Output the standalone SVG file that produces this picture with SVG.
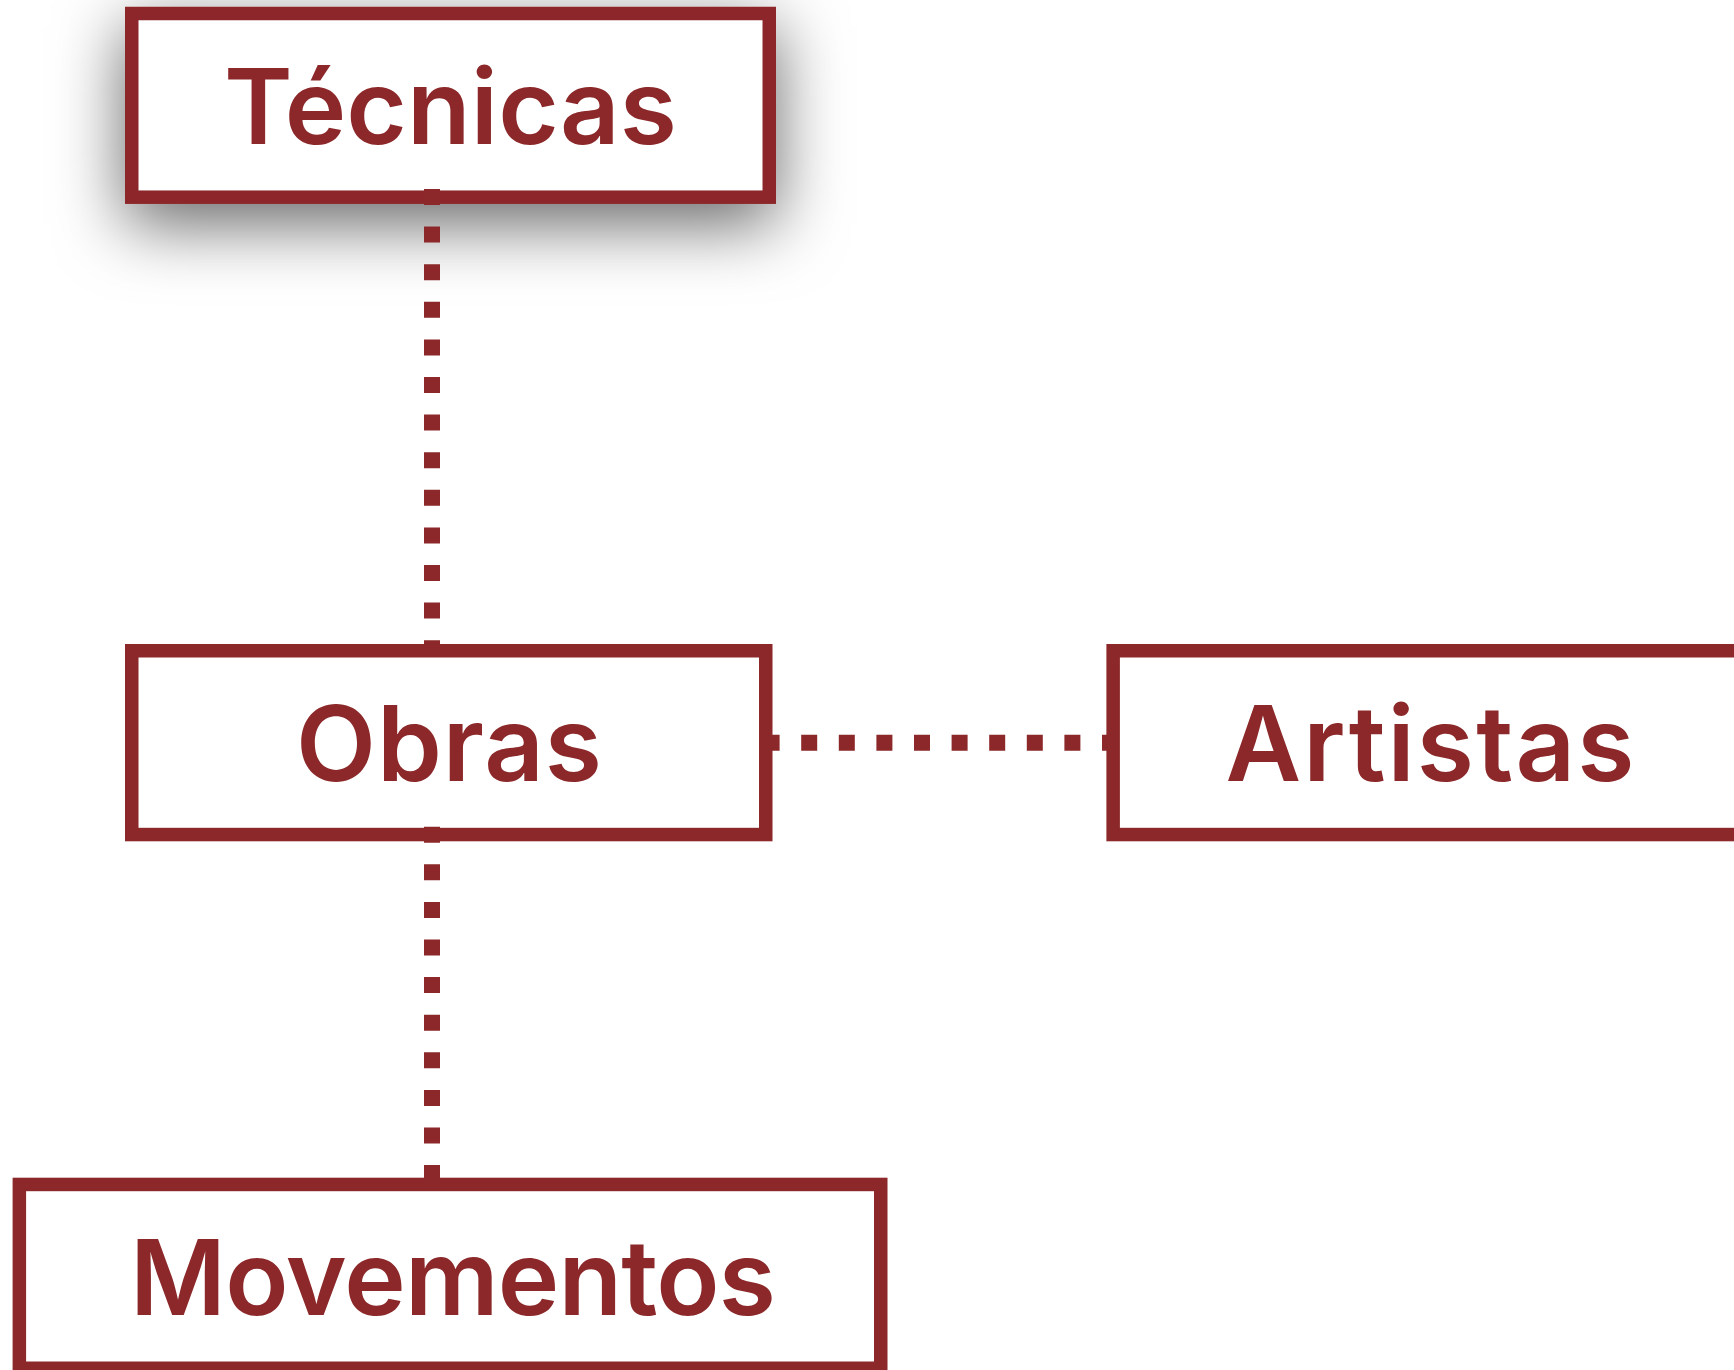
<svg xmlns="http://www.w3.org/2000/svg" width="1734" height="1370" viewBox="0 0 1734 1370">
<defs>
<filter id="shadow" x="-50%" y="-100%" width="200%" height="300%">
<feDropShadow dx="0" dy="20" stdDeviation="34" flood-color="#000" flood-opacity="0.6"/>
</filter>
<style>
.box{fill:#ffffff;stroke:#8C2829;stroke-width:13.5}
.lbl{fill:#8C2829;font-family:Inter,"Liberation Sans",sans-serif;font-weight:600;font-size:104px;text-anchor:middle}
.conn{stroke:#8C2829;stroke-width:16;stroke-dasharray:16 21.6;fill:none}
</style>
</defs>
<rect width="1734" height="1370" fill="#ffffff"/>
<g id="node-tecnicas">
<rect class="box" x="131.75" y="13.5" width="637.5" height="183.7" filter="url(#shadow)"/>
<text class="lbl" x="450.5" y="144" textLength="453" lengthAdjust="spacing">Técnicas</text>
</g>
<g id="node-obras">
<rect class="box" x="131.75" y="650.75" width="634" height="183.8"/>
<text class="lbl" x="449" y="781" textLength="306" lengthAdjust="spacing">Obras</text>
</g>
<g id="node-artistas">
<rect class="box" x="1113.15" y="650.75" width="637.5" height="183.8"/>
<text class="lbl" x="1430" y="781" textLength="409" lengthAdjust="spacing">Artistas</text>
</g>
<g id="node-movementos">
<rect class="box" x="19.35" y="1184.45" width="861.4" height="183.8"/>
<text class="lbl" x="453" y="1315" textLength="646" lengthAdjust="spacing">Movementos</text>
</g>
<g id="connectors">
<line class="conn" x1="432" y1="189" x2="432" y2="657"/>
<line class="conn" x1="432" y1="826.7" x2="432" y2="1186"/>
<line class="conn" x1="763.6" y1="742.7" x2="1119" y2="742.7"/>
</g>
</svg>
